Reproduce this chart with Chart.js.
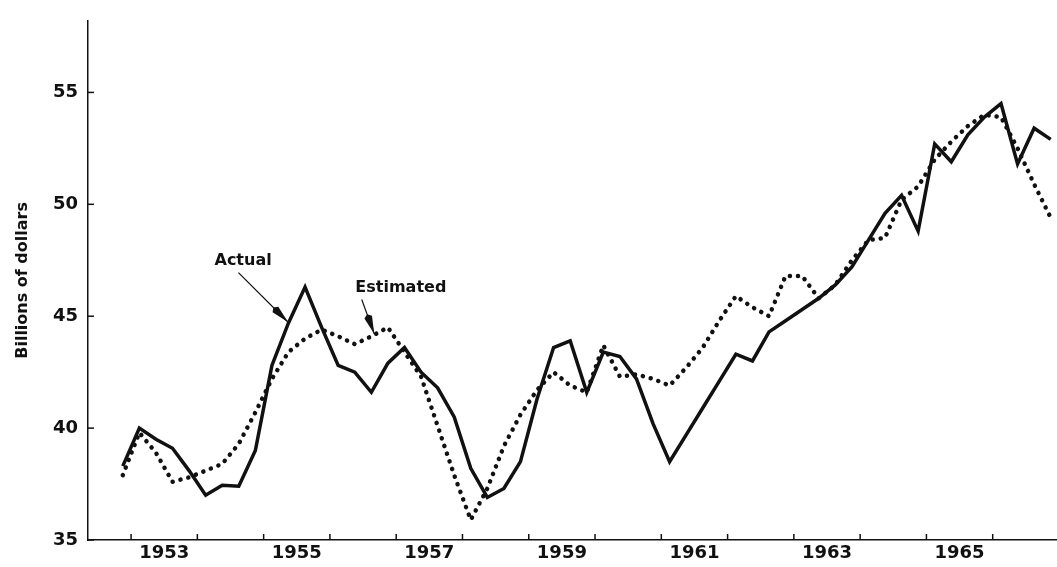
<!DOCTYPE html>
<html lang="en">

<head>
    <meta charset="UTF-8">
    <title>Actual vs Estimated</title>
    <script src="https://cdn.jsdelivr.net/npm/chart.js@4.4.3/dist/chart.umd.min.js"></script>
    <style>
        body { margin: 0; background: #fff; }
        canvas { display: block; }
    </style>
</head>

<body>
    <canvas id="mychart" width="1057" height="567"></canvas>

    <script>
        // quarterly observations, 1952 Q4 to 1966 Q4
        var quarters = [
            '1952-4',
            '1953-1', '1953-2', '1953-3', '1953-4',
            '1954-1', '1954-2', '1954-3', '1954-4',
            '1955-1', '1955-2', '1955-3', '1955-4',
            '1956-1', '1956-2', '1956-3', '1956-4',
            '1957-1', '1957-2', '1957-3', '1957-4',
            '1958-1', '1958-2', '1958-3', '1958-4',
            '1959-1', '1959-2', '1959-3', '1959-4',
            '1960-1', '1960-2', '1960-3', '1960-4',
            '1961-1', '1961-2', '1961-3', '1961-4',
            '1962-1', '1962-2', '1962-3', '1962-4',
            '1963-1', '1963-2', '1963-3', '1963-4',
            '1964-1', '1964-2', '1964-3', '1964-4',
            '1965-1', '1965-2', '1965-3', '1965-4',
            '1966-1', '1966-2', '1966-3', '1966-4'
        ];

        var actual = [
            38.3,
            40.0, 39.5, 39.1, 38.1,
            37.0, 37.45, 37.4, 39.0,
            42.8, 44.7, 46.3, 44.5,
            42.8, 42.5, 41.6, 42.9,
            43.6, 42.5, 41.8, 40.5,
            38.2, 36.9, 37.3, 38.5,
            41.3, 43.6, 43.9, 41.6,
            43.4, 43.2, 42.2, 40.2,
            38.5, 39.7, 40.9, 42.1,
            43.3, 43.0, 44.3, 44.8,
            45.3, 45.8, 46.4, 47.2,
            48.4, 49.6, 50.4, 48.8,
            52.7, 51.9, 53.1, 53.9,
            54.5, 51.8, 53.4, 52.9
        ];

        var estimated = [
            37.9,
            39.8, 38.9, 37.6, 37.8,
            38.1, 38.4, 39.3, 40.7,
            42.2, 43.4, 44.0, 44.4,
            44.1, 43.75, 44.1, 44.5,
            43.4, 42.3, 40.1, 37.9,
            35.9, 37.3, 39.2, 40.6,
            41.7, 42.5, 41.9, 41.6,
            43.7, 42.3, 42.4, 42.2,
            41.9, 42.7, 43.6, 44.8,
            45.9, 45.4, 45.0, 46.8,
            46.8, 45.8, 46.4, 47.5,
            48.4, 48.5, 50.2, 50.8,
            52.0, 52.8, 53.5, 54.0,
            53.9, 52.5, 50.9, 49.4
        ];

        var yearTicks = [1953, 1954, 1955, 1956, 1957, 1958, 1959, 1960, 1961, 1962, 1963, 1964, 1965, 1966];
        var yearLabels = [1953, 1955, 1957, 1959, 1961, 1963, 1965];
        var valueTicks = [35, 40, 45, 50, 55];

        // plot each quarter at its middle
        function quarterPos(q) {
            var parts = q.split('-');
            return parseInt(parts[0]) + (parseInt(parts[1]) - 0.5) / 4;
        }

        function toPoints(values) {
            return values.map((v, i) => ({ x: quarterPos(quarters[i]), y: v }));
        }

        var ink = '#111';
        var tickFont = { family: 'DejaVu Sans', size: 18, weight: 'bold' };

        function drawArrow(ctx, x0, y0, x1, y1) {
            var ang = Math.atan2(y1 - y0, x1 - x0);
            ctx.beginPath();
            ctx.moveTo(x0, y0);
            ctx.lineTo(x1, y1);
            ctx.stroke();
            var len = 18, half = 4;
            var bx = x1 - Math.cos(ang) * len, by = y1 - Math.sin(ang) * len;
            ctx.beginPath();
            ctx.moveTo(x1, y1);
            ctx.lineTo(bx + Math.sin(ang) * half, by - Math.cos(ang) * half);
            ctx.lineTo(bx - Math.cos(ang) * 3, by - Math.sin(ang) * 3);
            ctx.lineTo(bx - Math.sin(ang) * half, by + Math.cos(ang) * half);
            ctx.closePath();
            ctx.fill();
        }

        // inward tick marks + the two labelled arrows
        var decorations = {
            id: 'decorations',
            afterDraw(chart) {
                var ctx = chart.ctx;
                var x = chart.scales.x, y = chart.scales.y;
                ctx.save();
                ctx.strokeStyle = ink;
                ctx.fillStyle = ink;
                ctx.lineWidth = 1.5;
                yearTicks.forEach(yr => {
                    var px = x.getPixelForValue(yr);
                    ctx.beginPath();
                    ctx.moveTo(px, y.bottom);
                    ctx.lineTo(px, y.bottom - 6);
                    ctx.stroke();
                });
                valueTicks.forEach(v => {
                    var py = y.getPixelForValue(v);
                    ctx.beginPath();
                    ctx.moveTo(x.left, py);
                    ctx.lineTo(x.left + 6, py);
                    ctx.stroke();
                });

                ctx.font = 'bold 16px "DejaVu Sans"';
                ctx.textAlign = 'center';
                ctx.textBaseline = 'middle';
                ctx.fillText('Actual', x.getPixelForValue(1954.69), y.getPixelForValue(47.48));
                ctx.fillText('Estimated', x.getPixelForValue(1957.07), y.getPixelForValue(46.28));

                ctx.lineWidth = 1.2;
                drawArrow(ctx,
                    x.getPixelForValue(1954.62), y.getPixelForValue(46.95),
                    x.getPixelForValue(1955.37), y.getPixelForValue(44.73));
                drawArrow(ctx,
                    x.getPixelForValue(1956.48), y.getPixelForValue(45.75),
                    x.getPixelForValue(1956.67), y.getPixelForValue(44.2));
                ctx.restore();
            }
        };

        var data = {
            datasets: [
                {
                    label: 'Actual',
                    data: toPoints(actual),
                    borderColor: ink,
                    borderWidth: 3.5,
                    borderJoinStyle: 'miter',
                    pointRadius: 0,
                    tension: 0,
                    fill: false
                },
                {
                    label: 'Estimated',
                    data: toPoints(estimated),
                    borderColor: ink,
                    borderWidth: 4.5,
                    borderDash: [0.1, 8],
                    borderCapStyle: 'round',
                    pointRadius: 0,
                    tension: 0,
                    fill: false
                }
            ]
        };

        var config = {
            type: 'line',
            data: data,
            options: {
                responsive: false,
                animation: false,
                devicePixelRatio: 1,
                layout: { padding: { top: 15, right: 0, left: 0, bottom: 0 } },
                scales: {
                    x: {
                        type: 'linear',
                        min: 1952.35,
                        max: 1966.97,
                        grid: { display: false, drawTicks: false },
                        border: { display: true, color: ink, width: 1.5 },
                        afterBuildTicks: scale => {
                            scale.ticks = yearLabels.map(yr => ({ value: yr + 0.5 }));
                        },
                        afterFit: scale => { scale.height = 27; },
                        ticks: {
                            autoSkip: false,
                            maxRotation: 0,
                            padding: 3,
                            color: ink,
                            font: tickFont,
                            callback: value => String(Math.floor(value))
                        }
                    },
                    y: {
                        min: 35,
                        max: 58.2,
                        grid: { display: false, drawTicks: false },
                        border: { display: true, color: ink, width: 1.5 },
                        afterBuildTicks: scale => {
                            scale.ticks = valueTicks.map(v => ({ value: v }));
                        },
                        afterFit: scale => { scale.width = 88; },
                        ticks: {
                            padding: 10,
                            color: ink,
                            font: tickFont
                        },
                        title: {
                            display: true,
                            text: 'Billions of dollars',
                            color: ink,
                            font: { family: 'DejaVu Sans', size: 16, weight: 'bold' },
                            padding: { top: 13, bottom: 0 }
                        }
                    }
                },
                plugins: {
                    legend: { display: false },
                    tooltip: { enabled: false }
                }
            },
            plugins: [decorations]
        };

        var mychart = new Chart(
            document.getElementById('mychart'),
            config
        );
    </script>
</body>

</html>
